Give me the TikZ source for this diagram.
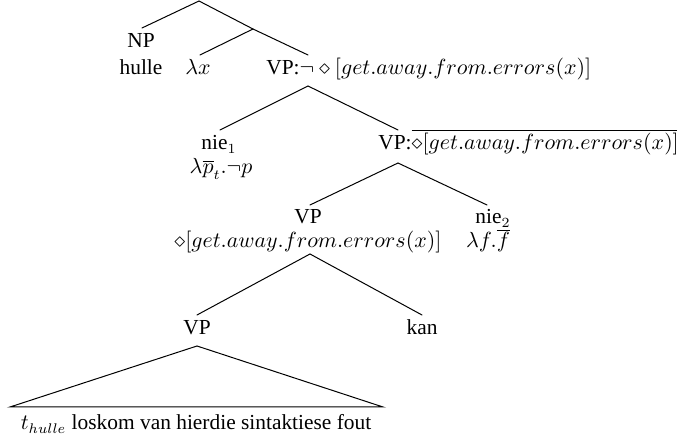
\documentclass[tikz,border=0pt]{standalone}
\usepackage{fontspec}
\setmainfont{Liberation Serif}
\begin{document}
\begin{tikzpicture}[x=0.5pt,y=-0.5pt,
  font=\fontsize{10.7}{13}\selectfont,
  lbl/.style={inner sep=0pt, anchor=base},
  lblw/.style={inner sep=0pt, anchor=base west},
  branch/.style={line width=0.5pt, line cap=round}]
\useasboundingbox (0,0) rectangle (677,438);

% labels
\node[lbl] (np) at (141,48) {NP};
\node[lbl] (hulle) at (141,75) {hulle};
\node[lbl] (lx) at (198,75) {$\lambda x$};
\node[lblw] (vpa) at (266,75) {VP:$\neg\diamond[get.away.from.errors(x)]$};
\node[lbl] (nieA) at (219,150) {nie$_1$};
\node[lbl] (nieAsem) at (221,174) {$\lambda\overline{p}_t.\neg p$};
\node[lblw] (vpb) at (378,150) {VP:$\overline{\diamond[get.away.from.errors(x)]}$};
\node[lbl] (vpc) at (308,224) {VP};
\node[lbl] (vpcsem) at (308,248) {$\diamond[get.away.from.errors(x)]$};
\node[lbl] (nieB) at (493,224) {nie$_2$};
\node[lbl] (nieBsem) at (488,248) {$\lambda f.\overline{f}$};
\node[lbl] (vpd) at (197,335) {VP};
\node[lbl] (kan) at (422,335) {kan};
\node[lbl] (yield) at (196,430) {$t_{hulle}$ loskom van hierdie sintaktiese fout};

% branch points
\coordinate (root) at (199,1);
\coordinate (npT) at (142,28);
\coordinate (mid) at (253,29);
\coordinate (lxT) at (200,55);
\coordinate (vpaT) at (308,55);
\coordinate (vpaB) at (308,86);
\coordinate (nieAT) at (220,130);
\coordinate (vpbT) at (398,130);
\coordinate (vpbB) at (398,163);
\coordinate (vpcT) at (310,205);
\coordinate (nieBT) at (487,205);
\coordinate (vpcB) at (310,254);
\coordinate (vpdT) at (197,315);
\coordinate (kanT) at (422,315);
\coordinate (vpdB) at (197,346);
\coordinate (triL) at (10,407);
\coordinate (triR) at (383,407);

% branches
\draw[branch] (root) -- (npT);
\draw[branch] (root) -- (mid);
\draw[branch] (mid) -- (lxT);
\draw[branch] (mid) -- (vpaT);
\draw[branch] (vpaB) -- (nieAT);
\draw[branch] (vpaB) -- (vpbT);
\draw[branch] (vpbB) -- (vpcT);
\draw[branch] (vpbB) -- (nieBT);
\draw[branch] (vpcB) -- (vpdT);
\draw[branch] (vpcB) -- (kanT);
\draw[branch] (vpdB) -- (triL) -- (triR) -- cycle;
\end{tikzpicture}
\end{document}
